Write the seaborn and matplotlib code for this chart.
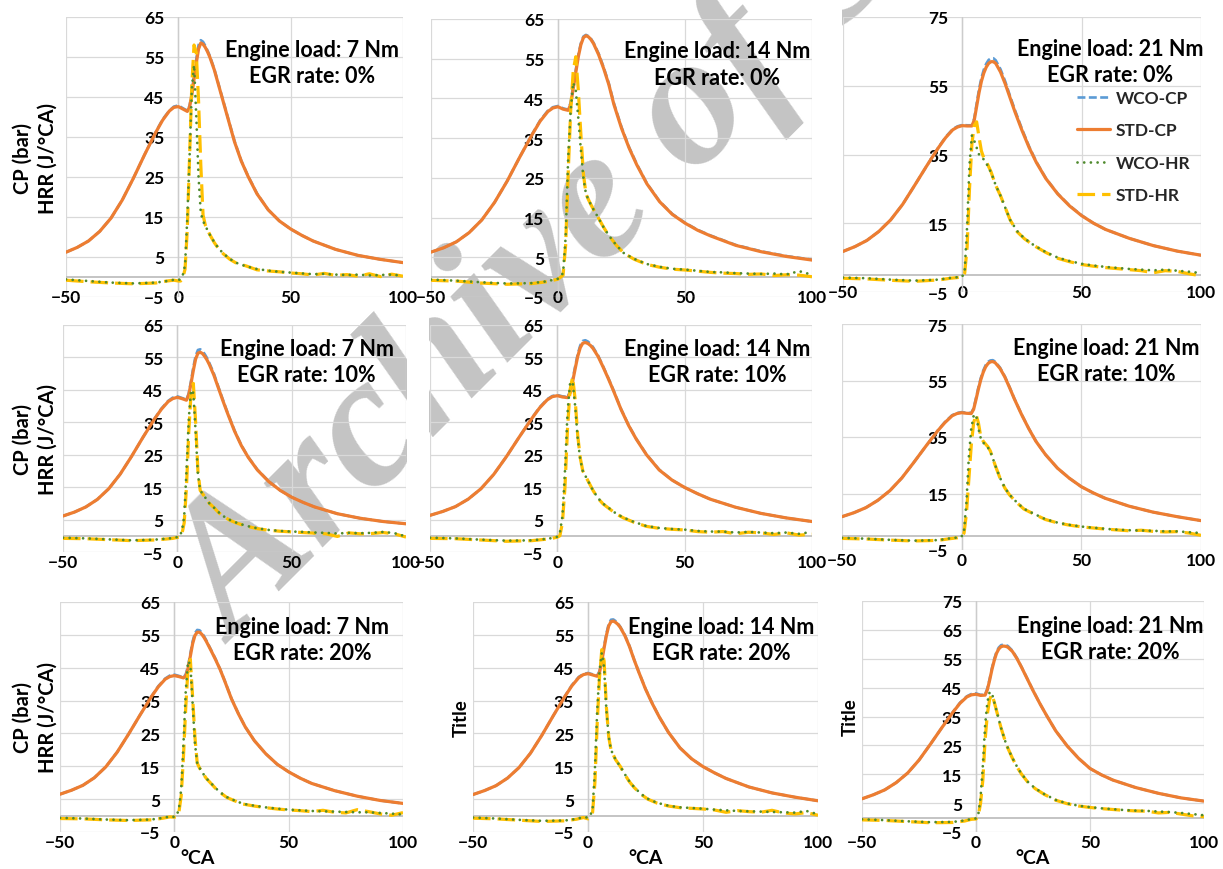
import seaborn as sns
import matplotlib.pyplot as plt
from matplotlib.patches import Rectangle

# Crank angle grids (°CA) used for the pressure and heat-release curves
CP_CA = [-50, -45, -40, -35, -30, -25, -20, -15, -10, -7, -4, -2, 0,
         2, 4, 5, 6, 7, 8, 9, 10, 11, 12, 13, 14,
         16, 18, 20, 22, 25, 28, 31, 35, 40, 45, 50, 55, 60,
         70, 80, 90, 100]
HR_CA = [-50, -40, -30, -20, -10, -5, -2, 0, 1, 2, 3, 4, 5, 6, 7, 8, 9, 10, 11, 12, 13, 14,
         16, 18, 20, 23, 26, 30, 35, 40, 45, 50, 55, 60, 65, 70, 75, 80, 85, 90, 95, 100]

LOADS = [7, 14, 21]       # Nm
EGR_RATES = [0, 10, 20]   # %
SERIES = ['WCO-CP', 'STD-CP', 'WCO-HR', 'STD-HR']

# ---- 7 Nm, 0 % EGR
cp_std_7_0 = [6.2, 7.4, 9.0, 11.4, 14.7, 19.2, 24.7, 30.6, 36.2, 39.2, 41.5, 42.4, 42.6,
              42.0, 41.4, 42.5, 45.5, 49.5, 53.5, 57.0, 58.5, 58.2, 57.4, 56.3, 55.0,
              51.8, 47.8, 43.8, 39.8, 33.8, 29.0, 25.2, 20.8, 16.8, 14.0, 12.0, 10.4, 9.0,
              6.9, 5.4, 4.4, 3.6]
cp_wco_7_0 = [6.2, 7.4, 9.0, 11.4, 14.7, 19.2, 24.7, 30.6, 36.3, 39.4, 41.6, 42.6, 42.9,
              42.2, 41.6, 42.8, 46.0, 50.5, 54.5, 58.0, 59.2, 58.8, 57.8, 56.6, 55.3,
              52.0, 48.0, 44.0, 40.0, 34.0, 29.1, 25.3, 20.9, 16.8, 14.0, 12.0, 10.4, 9.0,
              6.9, 5.4, 4.4, 3.6]
hr_std_7_0 = [-0.8, -1.2, -1.5, -1.7, -1.5, -1.0, -0.8, -1.0, -1.0, -0.3, 2.0, 12.0, 30.0, 48.0, 58.0, 56.0, 44.0, 28.0, 15.5, 13.0, 11.8, 10.6,
              8.6, 7.0, 5.8, 4.4, 3.4, 2.8, 1.8, 1.5, 1.3, 1.0, 0.8, 0.5, 0.9, 0.4, 0.6, 0.2, 0.8, 0.1, 0.7, 0.2]
hr_wco_7_0 = [-0.6, -1.0, -1.4, -1.6, -1.4, -1.0, -0.7, -0.8, -0.5, 0.5, 3.0, 15.0, 30.0, 47.0, 53.0, 40.0, 25.0, 16.0, 14.0, 12.8, 11.7, 10.6,
              8.7, 7.1, 5.9, 4.5, 3.5, 2.7, 2.0, 1.6, 1.3, 1.1, 0.9, 0.7, 0.8, 0.6, 0.5, 0.6, 0.4, 0.5, 0.6, 0.3]

# ---- 14 Nm, 0 % EGR
cp_std_14_0 = [6.3, 7.4, 8.9, 11.2, 14.4, 18.8, 24.2, 30.3, 36.1, 39.3, 41.7, 42.6, 42.9,
               42.3, 42.0, 43.5, 47.5, 51.5, 55.5, 58.5, 60.3, 60.8, 60.5, 59.8, 58.8,
               56.0, 52.5, 48.5, 43.5, 37.5, 32.5, 28.3, 23.5, 19.0, 15.8, 13.6, 11.8, 10.4,
               8.0, 6.4, 5.2, 4.3]
cp_wco_14_0 = [6.3, 7.4, 8.9, 11.2, 14.4, 18.8, 24.2, 30.3, 36.2, 39.5, 41.9, 42.8, 43.1,
               42.5, 42.2, 44.0, 48.3, 52.2, 56.0, 58.9, 60.6, 61.0, 60.7, 60.0, 59.0,
               56.3, 52.8, 48.8, 43.8, 37.8, 32.7, 28.5, 23.6, 19.1, 15.9, 13.7, 11.9, 10.5,
               8.1, 6.5, 5.3, 4.4]
hr_std_14_0 = [-0.8, -1.0, -1.5, -1.8, -1.6, -1.2, -0.8, -0.5, 0.0, 0.5, 8.0, 26.0, 42.0, 52.0, 55.5, 47.0, 36.0, 26.0, 21.0, 19.5, 18.2, 17.0,
               14.8, 12.5, 10.5, 8.0, 6.0, 4.5, 3.2, 2.5, 2.0, 1.8, 1.5, 1.2, 1.0, 0.9, 0.7, 0.8, 0.4, 0.6, 0.5, 0.1]
hr_wco_14_0 = [-0.6, -0.9, -1.3, -1.6, -1.5, -1.1, -0.7, -0.4, 0.3, 1.0, 10.0, 30.0, 42.0, 49.0, 47.0, 40.0, 32.0, 25.0, 21.0, 19.5, 18.2, 17.0,
               14.8, 12.5, 10.5, 8.0, 6.0, 4.6, 3.3, 2.6, 2.1, 1.9, 1.6, 1.3, 1.2, 1.0, 0.9, 0.8, 0.9, 0.7, 1.5, 0.6]

# ---- 21 Nm, 0 % EGR
cp_std_21_0 = [6.8, 8.2, 10.0, 12.6, 16.0, 20.5, 26.0, 31.6, 37.0, 39.9, 42.2, 43.0, 43.4,
               43.3, 43.3, 45.0, 49.0, 53.0, 56.3, 58.7, 60.4, 61.5, 62.0, 62.0, 61.5,
               59.0, 55.5, 51.5, 47.5, 42.0, 37.0, 32.7, 28.0, 23.5, 20.0, 17.2, 15.0, 13.2,
               10.6, 8.5, 6.9, 5.7]
cp_wco_21_0 = [6.8, 8.2, 10.0, 12.6, 16.0, 20.5, 26.0, 31.6, 37.1, 40.1, 42.4, 43.2, 43.6,
               43.5, 43.5, 45.5, 49.8, 54.0, 57.3, 59.7, 61.4, 62.5, 63.0, 63.0, 62.4,
               59.8, 56.2, 52.0, 48.0, 42.4, 37.3, 32.9, 28.1, 23.6, 20.1, 17.3, 15.0, 13.2,
               10.6, 8.5, 6.9, 5.7]
hr_std_21_0 = [-1.0, -1.2, -1.6, -1.9, -1.5, -1.0, -0.8, -0.6, 0.5, 8.0, 25.0, 38.0, 43.5, 44.5, 40.0, 36.0, 34.0, 33.0, 31.5, 30.0, 28.0, 26.0,
               23.0, 19.5, 16.0, 12.5, 10.5, 8.5, 6.5, 4.8, 3.8, 3.0, 2.5, 2.1, 1.8, 1.5, 1.2, 0.6, 1.2, 1.0, 0.3, -0.3]
hr_wco_21_0 = [-0.8, -1.0, -1.4, -1.7, -1.4, -0.9, -0.7, -0.5, 1.5, 14.0, 32.0, 40.5, 39.0, 37.0, 35.0, 34.5, 33.5, 32.5, 31.2, 29.8, 28.0, 26.0,
               23.0, 19.5, 16.0, 12.7, 10.6, 8.6, 6.6, 5.0, 4.0, 3.2, 2.7, 2.3, 2.0, 1.7, 1.5, 1.3, 1.5, 1.2, 0.9, 0.5]

# ---- 7 Nm, 10 % EGR
cp_std_7_10 = [6.1, 7.3, 8.9, 11.2, 14.5, 19.0, 24.5, 30.4, 36.0, 39.0, 41.4, 42.3, 42.7,
               42.3, 41.8, 43.5, 47.0, 51.0, 54.5, 56.3, 56.6, 56.2, 55.3, 54.2, 52.8,
               49.5, 45.5, 41.5, 37.7, 32.3, 27.8, 24.2, 20.3, 16.7, 14.0, 11.9, 10.3, 8.9,
               6.8, 5.4, 4.4, 3.7]
cp_wco_7_10 = [6.1, 7.3, 8.9, 11.2, 14.5, 19.0, 24.5, 30.4, 36.1, 39.2, 41.6, 42.6, 43.0,
               42.5, 42.0, 44.0, 47.8, 52.0, 55.5, 57.3, 57.5, 57.0, 56.0, 54.8, 53.3,
               50.0, 45.8, 41.8, 37.9, 32.5, 27.9, 24.3, 20.4, 16.8, 14.0, 11.9, 10.3, 8.9,
               6.8, 5.4, 4.4, 3.7]
hr_std_7_10 = [-0.8, -0.9, -1.2, -1.5, -1.3, -1.0, -0.8, -0.5, -0.5, 0.5, 4.0, 15.0, 32.0, 44.0, 47.0, 35.0, 20.0, 14.0, 13.0, 12.0, 11.0, 10.0,
               8.7, 7.2, 6.0, 4.8, 3.9, 3.0, 2.2, 1.7, 1.4, 1.2, 1.0, 0.8, 0.6, -0.2, 0.9, 0.6, 0.7, 1.0, 0.6, -0.4]
hr_wco_7_10 = [-0.6, -0.8, -1.1, -1.4, -1.2, -0.9, -0.7, -0.4, -0.2, 1.5, 6.0, 20.0, 36.0, 45.0, 44.0, 32.0, 19.0, 14.0, 13.0, 12.0, 11.0, 10.0,
               8.7, 7.3, 6.1, 4.9, 4.0, 3.1, 2.3, 1.8, 1.5, 1.3, 1.2, 1.0, 0.9, 0.7, 0.9, 0.8, 0.9, 1.2, 0.8, -0.2]

# ---- 14 Nm, 10 % EGR
cp_std_14_10 = [6.3, 7.5, 9.0, 11.3, 14.5, 18.9, 24.4, 30.4, 36.2, 39.4, 41.9, 42.9, 43.2,
                42.8, 42.6, 44.0, 47.5, 51.5, 55.3, 58.0, 59.4, 59.6, 59.3, 58.7, 57.8,
                55.3, 52.0, 48.5, 44.8, 39.0, 34.0, 29.8, 25.0, 20.3, 17.2, 14.9, 13.0, 11.3,
                8.8, 6.9, 5.5, 4.4]
cp_wco_14_10 = [6.3, 7.5, 9.0, 11.3, 14.5, 18.9, 24.4, 30.4, 36.3, 39.6, 42.1, 43.1, 43.4,
                43.0, 42.8, 44.5, 48.2, 52.2, 56.0, 58.7, 60.1, 60.3, 59.9, 59.2, 58.2,
                55.6, 52.2, 48.7, 45.0, 39.1, 34.1, 29.9, 25.1, 20.4, 17.2, 14.9, 13.0, 11.3,
                8.8, 6.9, 5.5, 4.4]
hr_std_14_10 = [-0.8, -0.9, -1.3, -1.7, -1.5, -1.1, -0.8, -0.4, 0.0, 4.0, 15.0, 33.0, 45.0, 49.0, 42.0, 31.0, 24.0, 20.0, 18.5, 17.0, 15.5, 14.0,
                11.5, 9.8, 8.6, 6.8, 5.5, 4.2, 2.9, 2.3, 2.0, 1.8, 1.3, 1.1, 1.3, 0.6, 1.1, 0.9, 0.4, 0.9, 0.2, 0.5]
hr_wco_14_10 = [-0.6, -0.8, -1.2, -1.5, -1.4, -1.0, -0.7, -0.3, 1.0, 6.0, 20.0, 38.0, 47.0, 47.5, 40.0, 30.0, 23.5, 20.0, 18.5, 17.0, 15.5, 14.0,
                11.6, 9.9, 8.7, 6.9, 5.6, 4.3, 3.0, 2.4, 2.1, 1.9, 1.5, 1.3, 1.3, 1.0, 1.2, 1.0, 0.8, 1.0, 0.6, 1.2]

# ---- 21 Nm, 10 % EGR
cp_std_21_10 = [6.8, 8.2, 10.0, 12.6, 16.0, 20.5, 26.0, 31.7, 37.2, 40.1, 42.5, 43.3, 43.6,
                43.4, 43.3, 44.8, 48.3, 52.0, 55.3, 57.9, 59.8, 61.0, 61.6, 61.7, 61.3,
                59.3, 56.3, 52.5, 48.5, 43.0, 38.0, 33.5, 28.8, 24.0, 20.4, 17.4, 15.2, 13.3,
                10.5, 8.4, 6.8, 5.4]
cp_wco_21_10 = [6.8, 8.2, 10.0, 12.6, 16.0, 20.5, 26.0, 31.7, 37.3, 40.3, 42.7, 43.5, 43.8,
                43.6, 43.5, 45.2, 48.8, 52.6, 55.9, 58.5, 60.4, 61.6, 62.1, 62.2, 61.7,
                59.6, 56.5, 52.7, 48.6, 43.1, 38.1, 33.6, 28.8, 24.0, 20.4, 17.4, 15.2, 13.3,
                10.5, 8.4, 6.8, 5.4]
hr_std_21_10 = [-0.9, -1.1, -1.5, -1.8, -1.6, -1.0, -0.7, -0.3, 1.0, 8.0, 20.0, 32.0, 40.0, 43.0, 40.0, 35.0, 33.5, 32.5, 31.5, 30.0, 27.5, 25.0,
                20.5, 17.0, 14.5, 11.8, 9.5, 7.8, 5.8, 4.6, 3.8, 3.2, 2.8, 2.4, 2.1, 1.8, 2.0, 1.6, 1.4, 1.5, 1.0, 0.2]
hr_wco_21_10 = [-0.7, -1.0, -1.4, -1.7, -1.5, -0.9, -0.6, -0.2, 2.0, 12.0, 28.0, 38.0, 42.5, 43.0, 38.0, 34.5, 33.0, 32.2, 31.2, 29.8, 27.5, 25.0,
                20.6, 17.1, 14.6, 11.9, 9.6, 7.9, 5.9, 4.7, 3.9, 3.3, 2.9, 2.5, 2.2, 2.0, 1.9, 1.8, 1.6, 1.6, 1.3, 1.0]

# ---- 7 Nm, 20 % EGR
cp_std_7_20 = [6.5, 7.7, 9.2, 11.5, 14.8, 19.3, 24.8, 30.6, 36.2, 39.2, 41.5, 42.3, 42.6,
               42.3, 41.9, 42.5, 44.8, 48.5, 52.3, 54.8, 55.8, 55.8, 55.2, 54.2, 53.0,
               50.3, 47.5, 44.5, 41.0, 35.5, 31.0, 27.0, 22.8, 18.8, 15.6, 13.3, 11.4, 9.8,
               7.6, 5.9, 4.6, 3.7]
cp_wco_7_20 = [6.5, 7.7, 9.2, 11.5, 14.8, 19.3, 24.8, 30.6, 36.3, 39.4, 41.7, 42.6, 42.9,
               42.5, 42.1, 43.0, 45.5, 49.3, 53.0, 55.5, 56.5, 56.4, 55.7, 54.6, 53.3,
               50.5, 47.7, 44.6, 41.1, 35.6, 31.1, 27.0, 22.8, 18.8, 15.6, 13.3, 11.4, 9.8,
               7.6, 5.9, 4.6, 3.7]
hr_std_7_20 = [-0.9, -1.0, -1.3, -1.5, -1.3, -0.8, -0.4, -0.5, -0.3, 1.0, 6.0, 18.0, 33.0, 45.0, 47.5, 36.0, 24.0, 16.0, 14.5, 13.5, 12.3, 11.3,
               9.8, 8.3, 7.0, 5.5, 4.6, 3.5, 2.9, 2.4, 2.0, 1.7, 1.5, 1.2, 1.6, 1.0, 0.8, 1.8, 1.2, 0.5, 0.1, 0.9]
hr_wco_7_20 = [-0.7, -0.9, -1.2, -1.4, -1.2, -0.7, -0.3, -0.4, 0.0, 2.0, 8.0, 22.0, 38.0, 47.0, 46.0, 34.0, 22.0, 16.0, 14.5, 13.5, 12.3, 11.3,
               9.9, 8.4, 7.1, 5.6, 4.7, 3.6, 3.0, 2.5, 2.1, 1.8, 1.6, 1.4, 1.3, 1.2, 1.1, 1.0, 1.0, 0.8, 0.6, 0.3]

# ---- 14 Nm, 20 % EGR
cp_std_14_20 = [6.4, 7.6, 9.1, 11.4, 14.6, 19.0, 24.5, 30.5, 36.3, 39.5, 42.0, 42.9, 43.2,
                42.8, 42.4, 43.5, 47.0, 51.0, 54.8, 57.7, 59.0, 59.2, 58.8, 58.2, 57.3,
                54.8, 51.5, 47.5, 43.8, 38.5, 34.0, 30.0, 25.3, 20.6, 17.3, 14.9, 13.0, 11.3,
                8.7, 6.9, 5.6, 4.5]
cp_wco_14_20 = [6.4, 7.6, 9.1, 11.4, 14.6, 19.0, 24.5, 30.5, 36.4, 39.7, 42.2, 43.1, 43.4,
                43.0, 42.6, 44.0, 47.6, 51.6, 55.4, 58.3, 59.6, 59.7, 59.2, 58.5, 57.5,
                55.0, 51.7, 47.6, 43.9, 38.6, 34.1, 30.0, 25.3, 20.6, 17.3, 14.9, 13.0, 11.3,
                8.7, 6.9, 5.6, 4.5]
hr_std_14_20 = [-0.8, -1.0, -1.4, -1.8, -1.6, -1.1, -0.6, -1.0, -0.5, 1.0, 10.0, 28.0, 42.0, 50.5, 47.0, 33.0, 24.0, 20.0, 18.5, 17.0, 16.0, 15.0,
                12.5, 10.3, 8.6, 6.5, 5.0, 3.8, 2.9, 2.4, 2.2, 2.0, 1.7, 1.0, 1.5, 1.2, 1.0, 1.6, 0.8, 0.5, 0.9, 0.1]
hr_wco_14_20 = [-0.6, -0.9, -1.3, -1.6, -1.5, -1.0, -0.5, -0.6, 0.0, 2.0, 14.0, 32.0, 44.0, 49.5, 45.0, 32.0, 24.0, 20.0, 18.5, 17.0, 16.0, 15.0,
                12.6, 10.4, 8.7, 6.6, 5.1, 3.9, 3.0, 2.5, 2.3, 2.1, 1.8, 1.6, 1.4, 1.3, 1.2, 1.1, 1.0, 0.9, 1.4, 0.4]

# ---- 21 Nm, 20 % EGR
cp_std_21_20 = [6.5, 7.9, 9.6, 12.1, 15.4, 19.9, 25.4, 31.1, 36.6, 39.6, 41.8, 42.5, 42.7,
                42.3, 42.4, 44.3, 47.6, 51.3, 54.4, 56.9, 58.4, 59.2, 59.4, 59.3, 59.0,
                57.5, 55.0, 52.0, 48.8, 44.0, 39.5, 35.3, 30.0, 24.8, 20.5, 17.0, 14.8, 13.0,
                10.4, 8.4, 6.8, 5.7]
cp_wco_21_20 = [6.5, 7.9, 9.6, 12.1, 15.4, 19.9, 25.4, 31.1, 36.7, 39.8, 42.0, 42.8, 43.0,
                42.5, 42.6, 44.8, 48.0, 51.8, 54.9, 57.4, 58.9, 59.7, 59.9, 59.8, 59.4,
                57.8, 55.2, 52.1, 48.9, 44.1, 39.5, 35.3, 30.0, 24.8, 20.5, 17.0, 14.8, 13.0,
                10.4, 8.4, 6.8, 5.7]
hr_std_21_20 = [-0.8, -1.0, -1.4, -1.8, -1.7, -1.2, -0.6, -0.5, 0.5, 5.0, 13.0, 27.0, 36.0, 41.0, 42.7, 40.0, 37.0, 34.0, 31.0, 28.5, 26.0, 24.0,
                20.5, 17.5, 15.0, 12.0, 10.0, 8.0, 6.0, 4.8, 4.0, 3.5, 3.1, 2.8, 2.5, 2.3, 2.2, 1.6, 1.8, 1.2, 0.6, 0.3]
hr_wco_21_20 = [-0.6, -0.9, -1.3, -1.6, -1.5, -1.0, -0.5, -0.3, 1.0, 7.0, 18.0, 32.0, 40.0, 43.5, 43.0, 40.0, 37.0, 34.0, 31.0, 28.5, 26.0, 24.0,
                20.6, 17.6, 15.1, 12.1, 10.1, 8.1, 6.1, 4.9, 4.1, 3.6, 3.2, 2.9, 2.6, 2.4, 2.3, 2.1, 1.9, 1.6, 1.2, 0.8]

data = {
    (7, 0): (cp_wco_7_0, cp_std_7_0, hr_wco_7_0, hr_std_7_0),
    (14, 0): (cp_wco_14_0, cp_std_14_0, hr_wco_14_0, hr_std_14_0),
    (21, 0): (cp_wco_21_0, cp_std_21_0, hr_wco_21_0, hr_std_21_0),
    (7, 10): (cp_wco_7_10, cp_std_7_10, hr_wco_7_10, hr_std_7_10),
    (14, 10): (cp_wco_14_10, cp_std_14_10, hr_wco_14_10, hr_std_14_10),
    (21, 10): (cp_wco_21_10, cp_std_21_10, hr_wco_21_10, hr_std_21_10),
    (7, 20): (cp_wco_7_20, cp_std_7_20, hr_wco_7_20, hr_std_7_20),
    (14, 20): (cp_wco_14_20, cp_std_14_20, hr_wco_14_20, hr_std_14_20),
    (21, 20): (cp_wco_21_20, cp_std_21_20, hr_wco_21_20, hr_std_21_20),
}

# line styles per series: colour, width, dash pattern, drawing order
styles = {
    'WCO-CP': dict(color='#5B9BD5', lw=1.9, ls=(0, (3.0, 1.3)), z=2),
    'STD-CP': dict(color='#ED7D31', lw=2.3, ls='-', z=3),
    'WCO-HR': dict(color='#4F8A2E', lw=2.0, ls=(0, (0.01, 2.4)), z=5),
    'STD-HR': dict(color='#FFC000', lw=2.3, ls=(0, (5.5, 2.2)), z=4),
}

sns.set_theme(style='white')
plt.rcParams['font.family'] = ['Lato', 'DejaVu Sans']
plt.rcParams['font.weight'] = 'bold'

W, H = 1223, 870
fig = plt.figure(figsize=(W / 100, H / 100), dpi=100)

# watermark, hidden in the white gaps between chart columns
fig.text(235 / W, 1 - 645 / H, 'Archive of SID', family='Liberation Serif', style='italic',
         weight='bold', fontsize=135, color='#c4c4c4', rotation=45, rotation_mode='anchor',
         ha='left', va='baseline', zorder=-3)
for x0, x1 in [(407, 429), (812, 842)]:
    fig.patches.append(Rectangle((x0 / W, 0), (x1 - x0) / W, 1, transform=fig.transFigure,
                                 facecolor='white', edgecolor='none', zorder=-2))

# plot-area boxes in pixels: left, top, right, bottom ; text x (axes fraction)
boxes = [
    (66, 18, 403, 298, 0.73), (431, 20, 812, 298, 0.75), (843, 18, 1201, 293, 0.746),
    (63, 326, 406, 553, 0.71), (430, 326, 812, 553, 0.751), (842, 325, 1201, 551, 0.735),
    (60, 603, 403, 833, 0.706), (473, 603, 818, 833, 0.72), (862, 602, 1204, 833, 0.725),
]

for i, (egr, load) in enumerate([(e, l) for e in EGR_RATES for l in LOADS]):
    row, col = divmod(i, 3)
    l, t, r, b, tx = boxes[i]
    ax = fig.add_axes([l / W, 1 - b / H, (r - l) / W, (b - t) / H])
    ax.set_facecolor('none')

    cpw, cps, hrw, hrs = data[(load, egr)]
    for name, xs, ys in [('WCO-CP', CP_CA, cpw), ('STD-CP', CP_CA, cps),
                         ('WCO-HR', HR_CA, hrw), ('STD-HR', HR_CA, hrs)]:
        st = styles[name]
        sns.lineplot(x=xs, y=ys, ax=ax, color=st['color'], lw=st['lw'], linestyle=st['ls'],
                     dash_capstyle='round' if name == 'WCO-HR' else 'butt', zorder=st['z'],
                     errorbar=None, label=name, legend=False)

    ymax = 65 if load < 21 else 75
    ystep = 20 if (load == 21 and egr < 20) else 10
    yticks = list(range(-5, ymax + 1, ystep))
    ax.set_xlim(-50, 100)
    ax.set_ylim(-5, ymax)
    ax.set_xticks([-50, 0, 50, 100])
    ax.set_yticks(yticks)
    ax.grid(True, color='#d9d9d9', lw=0.9)
    ax.set_axisbelow(True)
    for gl, v in zip(ax.get_ygridlines(), yticks):
        if v == -5:
            gl.set_visible(False)
    ax.axhline(0, color='#bfbfbf', lw=1.3, zorder=1)
    ax.axvline(0, color='#cccccc', lw=1.0, zorder=1)

    for s in ax.spines.values():
        s.set_visible(False)
    ax.spines['left'].set_position(('data', 0))
    ax.tick_params(axis='y', length=0, pad=10, labelsize=12.5, labelcolor='black')
    ax.tick_params(axis='x', length=0, pad=(-6 if row == 0 else 1.5), labelsize=12.5,
                   labelcolor='black')

    ax.text(tx, 0.838, f'Engine load: {load} Nm\nEGR rate: {egr}%', transform=ax.transAxes,
            ha='center', va='center', fontsize=15.5, fontweight='bold', linespacing=1.3,
            color='black')

    if col == 0:
        ax.text((35 - l) / (r - l), 0.5, 'CP (bar)\nHRR (J/°CA)', transform=ax.transAxes,
                rotation=90, ha='center', va='center', fontsize=14.5, fontweight='bold',
                linespacing=1.3, color='black')
    elif row == 2:
        ax.text(-0.034, 0.5, 'Title', transform=ax.transAxes, rotation=90, ha='center',
                va='center', fontsize=13.5, fontweight='bold', color='black')
    if row == 2:
        ax.text(0.40 if col == 0 else 0.5, -0.112, '°CA', transform=ax.transAxes, ha='center',
                va='center', fontsize=14, fontweight='bold', color='black')

    if row == 0 and col == 2:
        handles, labels = ax.get_legend_handles_labels()
        order = [labels.index(n) for n in SERIES]
        ax.legend([handles[k] for k in order], SERIES, loc='upper left',
                  bbox_to_anchor=(0.655, 0.735), frameon=False, fontsize=12.5,
                  handlelength=1.9, handletextpad=0.3, labelspacing=0.95,
                  borderpad=0, borderaxespad=0)

fig.savefig('out.png', dpi=100)
